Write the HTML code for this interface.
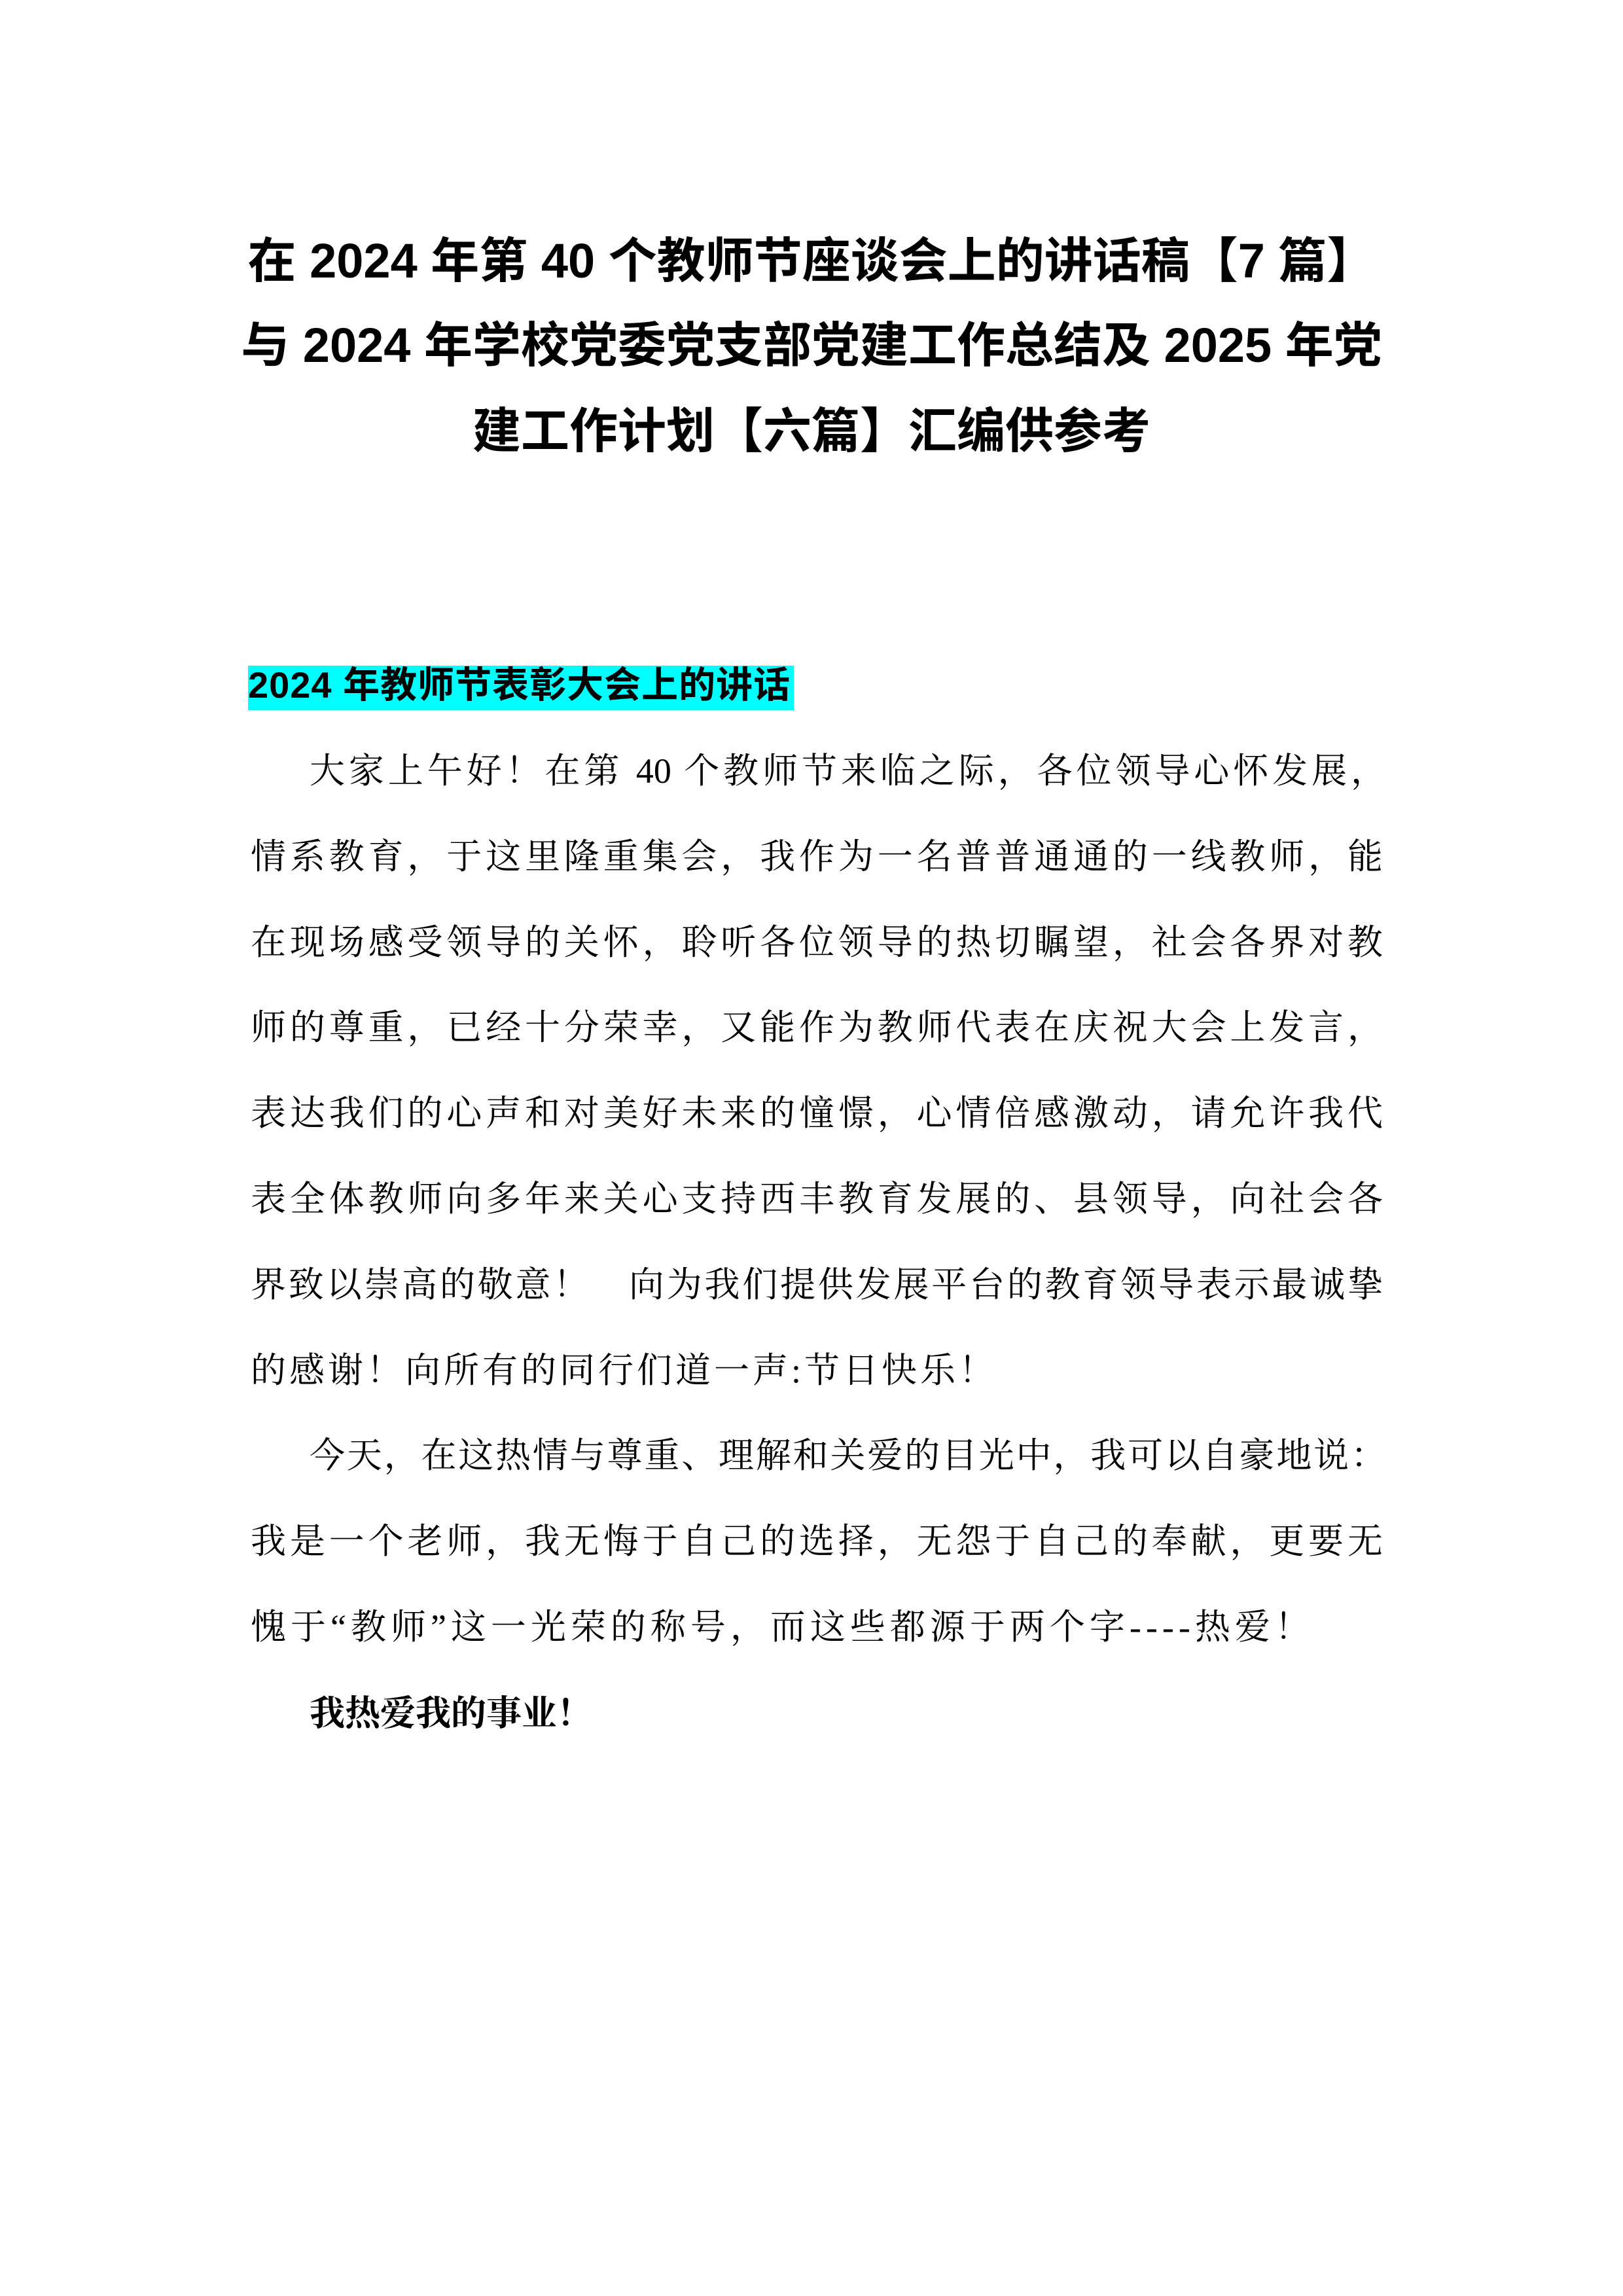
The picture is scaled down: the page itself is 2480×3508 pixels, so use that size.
<!DOCTYPE html>
<html><head><meta charset="utf-8"><style>
html,body{margin:0;padding:0;background:#fff;}
body{width:2480px;height:3508px;position:relative;overflow:hidden;font-family:"Liberation Serif","Noto Serif CJK SC",serif;color:#000;}
.t{position:absolute;left:0;width:2480px;text-align:center;font-weight:bold;font-size:74px;line-height:100px;font-family:"Liberation Sans","Noto Sans CJK SC",sans-serif;}
.l{position:absolute;left:383px;width:1730px;height:120px;line-height:120px;font-size:54px;white-space:nowrap;text-align:justify;text-align-last:justify;}
.p{text-align:left;text-align-last:left;letter-spacing:5px;}
.ind{left:473px;width:1645px;}
</style></head><body>
<div class="t" style="top:349px">在 2024 年第 40 个教师节座谈会上的讲话稿【7 篇】</div>
<div class="t" style="top:478px">与 2024 年学校党委党支部党建工作总结及 2025 年党</div>
<div class="t" style="top:609px">建工作计划【六篇】汇编供参考</div>

<div style="position:absolute;left:379px;top:1017px;width:834px;height:68px;background:#00ffff;"></div>
<div style="position:absolute;left:379px;top:1013px;width:834px;height:68px;line-height:68px;font-size:56px;font-weight:bold;white-space:nowrap;letter-spacing:1px;font-family:'Liberation Sans','Noto Sans CJK SC',sans-serif;">2024 年教师节表彰大会上的讲话</div>

<div class="l ind" style="top:1118px">大家上午好！在第 40 个教师节来临之际，各位领导心怀发展，</div>
<div class="l" style="top:1249px">情系教育，于这里隆重集会，我作为一名普普通通的一线教师，能</div>
<div class="l" style="top:1380px">在现场感受领导的关怀，聆听各位领导的热切瞩望，社会各界对教</div>
<div class="l" style="top:1510px">师的尊重，已经十分荣幸，又能作为教师代表在庆祝大会上发言，</div>
<div class="l" style="top:1641px">表达我们的心声和对美好未来的憧憬，心情倍感激动，请允许我代</div>
<div class="l" style="top:1772px">表全体教师向多年来关心支持西丰教育发展的、县领导，向社会各</div>
<div class="l" style="top:1903px">界致以崇高的敬意！　向为我们提供发展平台的教育领导表示最诚挚</div>
<div class="l p" style="top:2034px">的感谢！向所有的同行们道一声:节日快乐！</div>
<div class="l ind" style="top:2164px">今天，在这热情与尊重、理解和关爱的目光中，我可以自豪地说：</div>
<div class="l" style="top:2295px">我是一个老师，我无悔于自己的选择，无怨于自己的奉献，更要无</div>
<div class="l p" style="top:2426px;letter-spacing:7px">愧于“教师”这一光荣的称号，而这些都源于两个字----热爱！</div>
<div class="l p ind" style="top:2558px;font-weight:bold;letter-spacing:0;font-size:54px;">我热爱我的事业！</div>
</body></html>
